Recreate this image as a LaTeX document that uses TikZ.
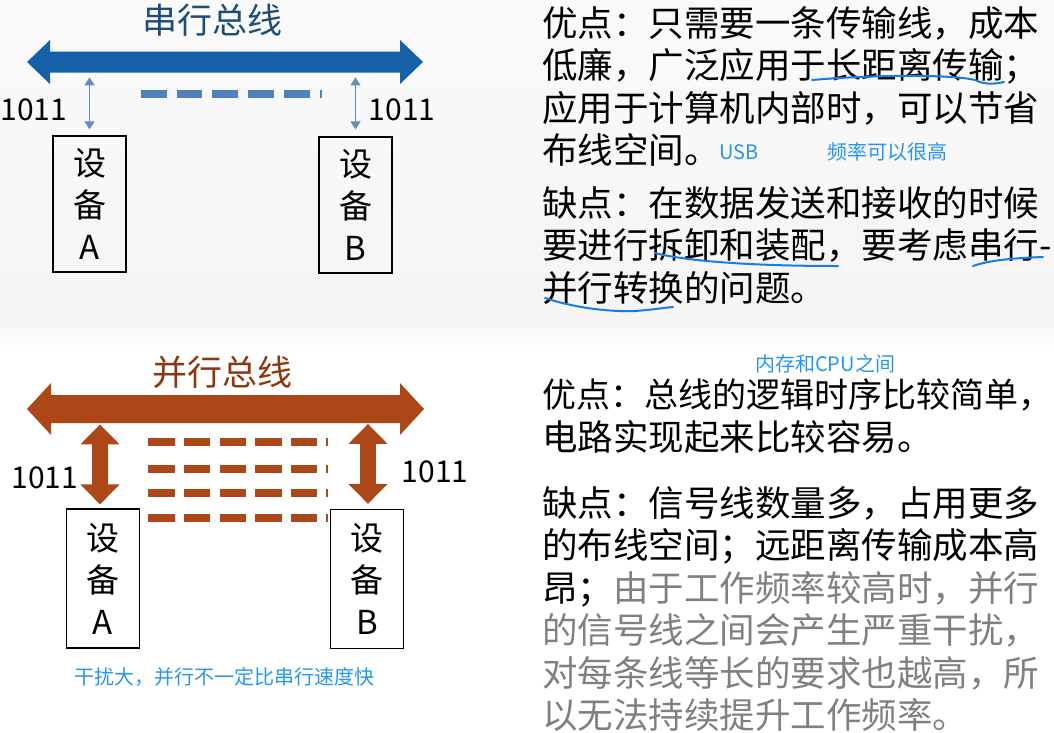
\documentclass[tikz,border=0pt]{standalone}
\usepackage{fontspec}
\setmainfont{Noto Sans CJK SC}
\usetikzlibrary{arrows.meta, positioning, calc}
\definecolor{cBusBlue}{RGB}{22,96,170}
\definecolor{cLinkBlue}{RGB}{100,140,190}
\definecolor{cDashBlue}{RGB}{79,129,189}
\definecolor{cTitleBlue}{RGB}{30,78,120}
\definecolor{cBusBrown}{RGB}{172,72,24}
\definecolor{cTitleBrown}{RGB}{140,55,15}
\definecolor{cNote}{RGB}{40,150,240}
\definecolor{cInk}{RGB}{20,125,230}
\definecolor{cGrey}{RGB}{128,128,128}
\tikzset{
	device/.style   ={rectangle, draw=black, line width=1.2pt, minimum width=73pt, minimum height=136pt, align=center, inner sep=0pt, font=\fontsize{33}{42}\selectfont},
	bustitle/.style ={inner sep=0pt, font=\fontsize{35}{40}\selectfont},
	bits/.style     ={inner sep=0pt, font=\fontsize{30}{34}\selectfont},
	para/.style     ={anchor=north west, align=left, inner sep=0pt, font=\fontsize{35.5}{42.5}\selectfont},
	note/.style     ={anchor=west, inner sep=0pt, text=cNote, font=\fontsize{20}{24}\selectfont},
	thinlink/.style ={{Triangle[width=10pt,length=8pt]}-{Triangle[width=10pt,length=8pt]}, draw=cLinkBlue, line width=1.3pt},
	fatlink/.style  ={{Triangle[width=38pt,length=20pt]}-{Triangle[width=38pt,length=20pt]}, draw=cBusBrown, line width=16pt},
	wire/.style     ={line width=8pt},
	ink/.style      ={draw=cInk, line width=2pt, line cap=round},
}
\begin{document}
\begin{tikzpicture}[x=1pt, y=-1pt]
	\useasboundingbox (0,0) rectangle (1054,732);
	\shade[top color=gray!4, bottom color=gray!8] (0,0) rectangle (1054,320);
	\shade[top color=gray!8, bottom color=white] (0,320) rectangle (1054,350);
	% serial bus
	\node[bustitle, text=cTitleBlue] (titleS) at (212,20) {串行总线};
	\fill[cBusBlue] (27,62) -- (50,40) -- (50,51.5) -- (400,51.5) -- (400,40) -- (423,62) -- (400,84) -- (400,72.5) -- (50,72.5) -- (50,84) -- cycle;
	\draw[wire, draw=cDashBlue, dash pattern=on 25.7pt off 10pt] (141,94) -- (322,94);
	\node[device] (devSA) at (89.5,204) {设\\备\\A};
	\node[device] (devSB) at (355.5,205) {设\\备\\B};
	\draw[thinlink] ($(devSA.north)+(0,-58)$) -- ($(devSA.north)+(0,-6)$);
	\draw[thinlink] ($(devSB.north)+(0,-59)$) -- ($(devSB.north)+(0,-7)$);
	\node[bits] (bitsSA) at (34,110) {1011};
	\node[bits] (bitsSB) at (402,110) {1011};
	% parallel bus
	\node[bustitle, text=cTitleBrown] (titleP) at (222,372) {并行总线};
	\fill[cBusBrown] (27,409) -- (51,383) -- (51,395) -- (400,395) -- (400,383) -- (424,409) -- (400,435) -- (400,423) -- (51,423) -- (51,435) -- cycle;
	\foreach \y in {442.3,469.3,493.3,518.3}
		\draw[wire, line width=7.7pt, draw=cBusBrown, dash pattern=on 26.5pt off 9.1pt] (148.3,\y) -- (328,\y);
	\node[device, minimum height=139pt] (devPA) at (103,578.5) {设\\备\\A};
	\node[device, minimum height=139pt] (devPB) at (367,579) {设\\备\\B};
	\draw[fatlink] ($(devPA.north)+(-3,-84)$) -- ($(devPA.north)+(-3,-4)$);
	\draw[fatlink] ($(devPB.north)+(1,-85)$) -- ($(devPB.north)+(1,-5)$);
	\node[bits] (bitsPA) at (45,478) {1011};
	\node[bits] (bitsPB) at (435,472) {1011};
	\node[note] (noteNoise) at (74,677) {干扰大，并行不一定比串行速度快};
	% text on the right
	\node[para] (advS) at (542,6) {优点：只需要一条传输线，成本\\低廉，广泛应用于长距离传输；\\应用于计算机内部时，可以节省\\布线空间。};
	\node[note] (noteUSB) at (719,152) {USB};
	\node[note] (noteFreq) at (827,152) {频率可以很高};
	\node[para] (disS) at (542,186) {缺点：在数据发送和接收的时候\\要进行拆卸和装配，要考虑串行-\\并行转换的问题。};
	\node[note] (noteMem) at (755,364) {内存和CPU之间};
	\node[para] (advP) at (542,379) {{\fontsize{34}{42.5}\selectfont 优点：总线的逻辑时序比较简单，}\\电路实现起来比较容易。};
	\node[para] (disP) at (542,486) {缺点：信号线数量多，占用更多\\的布线空间；远距离传输成本高\\昂；\textcolor{cGrey}{由于工作频率较高时，并行}\\\textcolor{cGrey}{的信号线之间会产生严重干扰，}\\\textcolor{cGrey}{对每条线等长的要求也越高，所}\\\textcolor{cGrey}{以无法持续提升工作频率。}};
	% hand underlines
	\draw[ink] (812,80) .. controls (870,75) and (950,74) .. (975,80) .. controls (985,85) and (995,84) .. (1004,82);
	\draw[ink] (655,253) .. controls (690,262) and (760,266) .. (838,266);
	\draw[ink] (973,266) .. controls (990,260) and (1015,258) .. (1043,257);
	\draw[ink] (545,298) .. controls (575,308) and (610,312) .. (635,311) .. controls (650,310) and (662,308) .. (673,307);
\end{tikzpicture}
\end{document}
